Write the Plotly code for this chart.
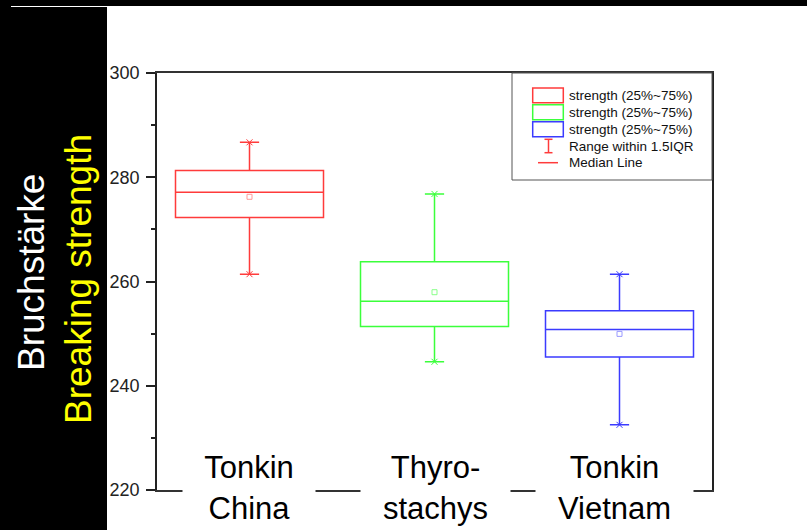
import plotly.graph_objects as go

# ---- data ----
categories = ["Tonkin China", "Thyrostachys", "Tonkin Vietnam"]
cat_labels = ["Tonkin<br>China", "Thyro-<br>stachys", "Tonkin<br>Vietnam"]
q1 = [272.3, 251.35, 245.5]
median = [277.1, 256.2, 250.8]
q3 = [281.3, 263.8, 254.4]
lower = [261.4, 244.6, 232.5]
upper = [286.7, 276.8, 261.4]
mean = [276.25, 257.95, 249.95]
colors = ["#ff3b3b", "#3bff3b", "#3b3bff"]
mean_colors = ["#ff9a9a", "#8aff8a", "#9a9aff"]
legend_labels = ["strength (25%~75%)", "strength (25%~75%)", "strength (25%~75%)",
                 "Range within 1.5IQR", "Median Line"]
yticks = [220, 240, 260, 280, 300]

FONT = "Liberation Sans, Arial, sans-serif"
W, H = 807, 530
L, R, T, B = 157, 95, 73, 40
PW, PH = W - L - R, H - T - B


def X(px):
    return (px - L) / PW


def Y(py):
    return (H - B - py) / PH


fig = go.Figure()
for i, c in enumerate(categories):
    fig.add_trace(go.Box(
        x=[c], q1=[q1[i]], median=[median[i]], q3=[q3[i]],
        lowerfence=[lower[i]], upperfence=[upper[i]],
        width=0.8, whiskerwidth=0.13, boxpoints=False,
        line=dict(color=colors[i], width=1.5),
        fillcolor="rgba(0,0,0,0)", showlegend=False, hoverinfo="skip"))
    fig.add_trace(go.Scatter(
        x=[c, c], y=[lower[i], upper[i]], mode="markers",
        marker=dict(symbol="x-thin", size=6, line=dict(color=colors[i], width=1)),
        showlegend=False, hoverinfo="skip"))
    fig.add_trace(go.Scatter(
        x=[c], y=[mean[i]], mode="markers",
        marker=dict(symbol="square-open", size=5, color=mean_colors[i],
                    line=dict(width=1)),
        showlegend=False, hoverinfo="skip"))

shapes = []
# black left panel and top bar
shapes.append(dict(type="rect", xref="paper", yref="paper", x0=X(0), x1=X(107),
                   y0=Y(H), y1=Y(0), fillcolor="black", line=dict(width=0), layer="above"))
shapes.append(dict(type="rect", xref="paper", yref="paper", x0=X(0), x1=X(W),
                   y0=Y(6), y1=Y(0), fillcolor="black", line=dict(width=0), layer="above"))
shapes.append(dict(type="line", xref="paper", yref="paper", x0=X(11), x1=X(107),
                   y0=Y(6.5), y1=Y(6.5), line=dict(color="white", width=1), layer="above"))
# legend frame
shapes.append(dict(type="rect", xref="paper", yref="paper", x0=X(512), x1=X(712),
                   y0=Y(180), y1=Y(73), fillcolor="white",
                   line=dict(color="#555555", width=1), layer="above"))
icon_rows = [(88, 102.7), (104.7, 119.7), (121.7, 136.7)]
for (ya, yb), col in zip(icon_rows, colors):
    shapes.append(dict(type="rect", xref="paper", yref="paper", x0=X(532.7), x1=X(563.3),
                       y0=Y(yb), y1=Y(ya), line=dict(color=col, width=1.5), layer="above"))
red = colors[0]
shapes.append(dict(type="line", xref="paper", yref="paper", x0=X(548.5), x1=X(548.5),
                   y0=Y(152.7), y1=Y(139.3), line=dict(color=red, width=1.5), layer="above"))
for yy in (139.3, 152.7):
    shapes.append(dict(type="line", xref="paper", yref="paper", x0=X(544.5), x1=X(552.5),
                       y0=Y(yy), y1=Y(yy), line=dict(color=red, width=1.5), layer="above"))
shapes.append(dict(type="line", xref="paper", yref="paper", x0=X(538), x1=X(558),
                   y0=Y(162.7), y1=Y(162.7), line=dict(color=red, width=1.5), layer="above"))

annotations = []
for txt, yy in zip(legend_labels, [95.3, 112.3, 129.3, 146, 162.7]):
    annotations.append(dict(xref="paper", yref="paper", x=X(567), y=Y(yy),
                            xanchor="left", yanchor="middle", text=txt, showarrow=False,
                            font=dict(family=FONT, size=13.5, color="#111111")))
box_widths = [132, 149, 157]
box_shifts = [-1, 1, -5]
for c, lab, bw, sh in zip(categories, cat_labels, box_widths, box_shifts):
    annotations.append(dict(xref="x", yref="paper", x=c, y=Y(488), xanchor="center",
                            yanchor="middle", text=lab, showarrow=False, bgcolor="white",
                            borderpad=0, width=bw, height=84, xshift=sh,
                            font=dict(family=FONT, size=31, color="black")))
annotations.append(dict(xref="paper", yref="paper", x=X(31), y=Y(273), xanchor="center",
                        yanchor="middle", text="Bruchstärke", textangle=-90, showarrow=False,
                        font=dict(family=FONT, size=37, color="white")))
annotations.append(dict(xref="paper", yref="paper", x=X(78), y=Y(279), xanchor="center",
                        yanchor="middle", text="Breaking strength", textangle=-90,
                        showarrow=False, font=dict(family=FONT, size=37, color="#ffff00")))

fig.update_layout(
    width=W, height=H, autosize=False,
    margin=dict(l=L, r=R, t=T, b=B),
    paper_bgcolor="white", plot_bgcolor="white",
    shapes=shapes, annotations=annotations, showlegend=False,
    xaxis=dict(type="category", range=[-0.5, 2.5], showticklabels=False, ticks="",
               showgrid=False, zeroline=False, showline=True, mirror=True,
               linecolor="#333333", linewidth=1.5),
    yaxis=dict(range=[220, 300], tickvals=yticks, ticks="outside", ticklen=9,
               tickwidth=1.5, tickcolor="#222222", showgrid=False, zeroline=False,
               showline=True, mirror=True, linecolor="#222222", linewidth=1.5,
               ticklabelstandoff=3,
               tickfont=dict(family=FONT, size=18, color="#222222"),
               minor=dict(dtick=10, ticks="outside", ticklen=4, tickwidth=1.5,
                          tickcolor="#222222", showgrid=False)),
)

fig.write_html("out.html")
